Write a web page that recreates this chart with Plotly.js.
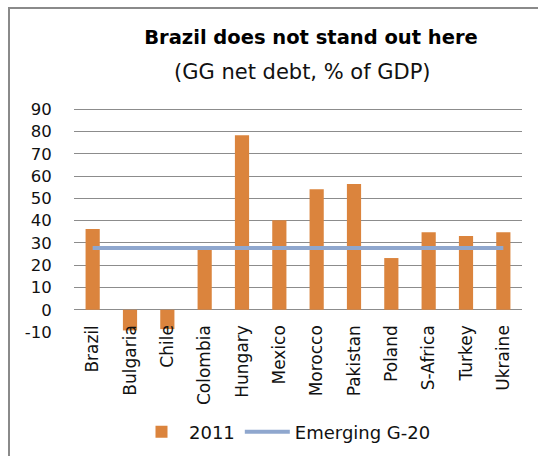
<!DOCTYPE html>
<html>
<head>
<meta charset="utf-8">
<script src="https://cdn.plot.ly/plotly-3.0.1.min.js"></script>
<style>
  html, body { margin: 0; padding: 0; background: #fff; overflow: hidden; }
  #wrap { position: relative; width: 538px; height: 456px; }
  #chart { width: 538px; height: 456px; }
  #frame { position: absolute; left: 8px; top: 7px; width: 530px; height: 449px; box-sizing: border-box;
           border-top: 2px solid #8a8a8a; border-left: 2px solid #8a8a8a; pointer-events: none; }
</style>
</head>
<body>
<div id="wrap">
  <div id="chart"></div>
  <div id="frame"></div>
</div>
<script>
const countries = ["Brazil", "Bulgaria", "Chile", "Colombia", "Hungary", "Mexico", "Morocco", "Pakistan", "Poland", "S-Africa", "Turkey", "Ukraine"];
const debt2011 = [36.2, -9.3, -8.7, 27.1, 78.3, 40.2, 54.1, 56.4, 23.2, 34.8, 33.1, 34.8];
const emergingG20 = [27.7, 27.7, 27.7, 27.7, 27.7, 27.7, 27.7, 27.7, 27.7, 27.7, 27.7, 27.7];
const yTickValues = [-10, 0, 10, 20, 30, 40, 50, 60, 70, 80, 90];
const gridValues = [0, 10, 20, 30, 40, 50, 60, 70, 80, 90];

const FONT = "DejaVu Sans, Verdana, sans-serif";
const YRANGE = [-10, 91];

const traces = [
  {
    type: "bar",
    name: "2011",
    x: countries,
    y: debt2011,
    marker: { color: "#DB843D" },
    hoverinfo: "x+y"
  },
  {
    type: "scatter",
    mode: "lines",
    name: "Emerging G-20",
    x: countries,
    y: emergingG20,
    line: { color: "#8FA7CE", width: 4 },
    hoverinfo: "x+y"
  },
  {
    type: "scatter",
    mode: "none",
    x: [countries[0]],
    y: [0],
    yaxis: "y2",
    showlegend: false,
    hoverinfo: "skip"
  }
];

const layout = {
  width: 538,
  height: 456,
  margin: { l: 74, r: 16, t: 107, b: 124 },
  paper_bgcolor: "#ffffff",
  plot_bgcolor: "#ffffff",
  font: { family: FONT, color: "#111111", size: 16.5 },
  bargap: 0.62,
  showlegend: true,
  title: {
    text: "<b>Brazil does not stand out here</b>",
    font: { family: FONT, size: 19.5, color: "#000000" },
    x: 311 / 538,
    xanchor: "center",
    xref: "container",
    y: 1 - 37 / 456,
    yanchor: "middle",
    yref: "container"
  },
  annotations: [
    {
      text: "(GG net debt, % of GDP)",
      xref: "paper", yref: "paper",
      x: (302 - 74) / 448, y: (332 - 72) / 225,
      xanchor: "center", yanchor: "middle",
      showarrow: false,
      font: { family: FONT, size: 21, color: "#111111" }
    }
  ],
  xaxis: {
    type: "category",
    anchor: "free",
    position: 0.05,
    automargin: false,
    showline: false,
    showgrid: false,
    zeroline: false,
    ticks: "",
    tickangle: -90,
    tickfont: { family: FONT, size: 17, color: "#111111" }
  },
  yaxis: {
    range: YRANGE,
    tickvals: gridValues,
    showticklabels: false,
    showgrid: true,
    gridcolor: "#8c8c8c",
    gridwidth: 1,
    zeroline: false,
    showline: false,
    ticks: "",
    automargin: false,
    fixedrange: true
  },
  yaxis2: {
    overlaying: "y",
    side: "left",
    range: YRANGE,
    tickvals: yTickValues,
    ticktext: yTickValues.map(String),
    showgrid: false,
    zeroline: false,
    showline: false,
    ticks: "outside",
    ticklen: 18,
    tickcolor: "rgba(0,0,0,0)",
    tickfont: { family: FONT, size: 16.5, color: "#111111" },
    automargin: false,
    fixedrange: true
  },
  legend: {
    orientation: "h",
    xref: "container",
    yref: "container",
    x: 285 / 538,
    xanchor: "center",
    y: 1 - 432 / 456,
    yanchor: "middle",
    font: { family: FONT, size: 18, color: "#111111" },
    itemwidth: 45,
    bgcolor: "rgba(0,0,0,0)"
  }
};

Plotly.newPlot("chart", traces, layout, { displayModeBar: false, staticPlot: true });
</script>
</body>
</html>
